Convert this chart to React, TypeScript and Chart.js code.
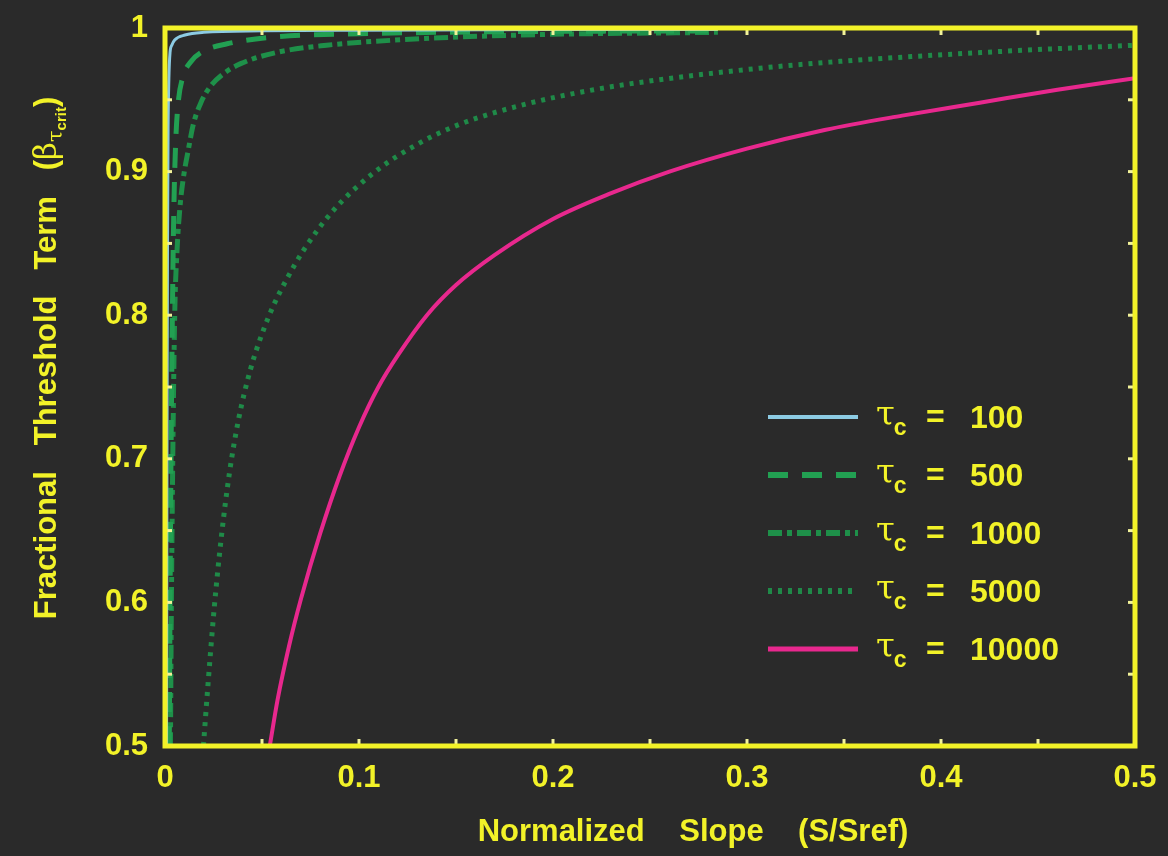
import React, { useEffect, useRef } from 'react';
import { Chart, registerables } from 'chart.js';

Chart.register(...registerables);

// ---------- data ----------
const xTickLabels = ['0', '0.1', '0.2', '0.3', '0.4', '0.5'];
const yTickLabels = ['0.5', '0.6', '0.7', '0.8', '0.9', '1'];
const xMinorTicks = [0, 0.05, 0.1, 0.15, 0.2, 0.25, 0.3, 0.35, 0.4, 0.45, 0.5];
const yMinorTicks = [0.5, 0.55, 0.6, 0.65, 0.7, 0.75, 0.8, 0.85, 0.9, 0.95, 1];

const tauValues = ['100', '500', '1000', '5000', '10000'];

const slope100 = [0.0008, 0.001, 0.0013, 0.0016, 0.002, 0.0026, 0.0035, 0.005, 0.0103, 0.02, 0.05, 0.1, 0.2, 0.285];
const beta100 = [0.5, 0.7, 0.85, 0.93, 0.965, 0.983, 0.988, 0.9916, 0.9951, 0.997, 0.998, 0.9985, 0.999, 0.999];

const slope500 = [0.0022, 0.0026, 0.0031, 0.0038, 0.0045, 0.0055, 0.0068, 0.009, 0.013, 0.02, 0.032, 0.058, 0.1, 0.18, 0.285];
const beta500 = [0.5, 0.6, 0.7, 0.8, 0.87, 0.92, 0.948, 0.965, 0.976, 0.984, 0.989, 0.994, 0.996, 0.9975, 0.998];

const slope1000 = [0.0028, 0.0033, 0.004, 0.005, 0.0062, 0.0077, 0.0094, 0.012, 0.0146, 0.0185, 0.0232, 0.03, 0.0387, 0.0576, 0.0833, 0.1175, 0.18, 0.285];
const beta1000 = [0.5, 0.6, 0.7, 0.8, 0.845, 0.875, 0.895, 0.915, 0.933, 0.948, 0.959, 0.968, 0.975, 0.983, 0.988, 0.9915, 0.995, 0.997];

const slope5000 = [0.0198, 0.022, 0.0253, 0.029, 0.0332, 0.038, 0.044, 0.05, 0.056, 0.0627, 0.0713, 0.0868, 0.1074, 0.13, 0.152, 0.186, 0.221, 0.255, 0.3067, 0.35, 0.396, 0.45, 0.5];
const beta5000 = [0.5, 0.54, 0.595, 0.645, 0.69, 0.728, 0.762, 0.787, 0.807, 0.825, 0.845, 0.873, 0.899, 0.919, 0.933, 0.947, 0.957, 0.964, 0.972, 0.977, 0.981, 0.985, 0.988];

const slope10000 = [0.054, 0.058, 0.064, 0.07, 0.08, 0.09, 0.1, 0.11, 0.12, 0.135, 0.15, 0.17, 0.2, 0.23, 0.26, 0.3, 0.34, 0.38, 0.42, 0.46, 0.5];
const beta10000 = [0.5, 0.532, 0.57, 0.602, 0.648, 0.688, 0.722, 0.75, 0.772, 0.8, 0.821, 0.842, 0.867, 0.885, 0.9, 0.916, 0.929, 0.939, 0.948, 0.957, 0.965];

const xTitle = 'Normalized    Slope    (S/Sref)';
const yTitleMain = 'Fractional   Threshold   Term   (';
const yTitleBeta = 'β';
const yTitleSub = 'τ';
const yTitleSubSub = 'crit';
const yTitleClose = ')';

// ---------- styles ----------
const BG = '#2a2a2a';
const YELLOW = '#f2f228';
const TICK_YELLOW = '#f2f29a';
const SANS = '"Liberation Sans", Arial, sans-serif';
const SERIF = '"DejaVu Serif", "Liberation Serif", serif';

const toPts = (xs: number[], ys: number[]) => xs.map((x, i) => ({ x, y: ys[i] }));

const seriesStyles = [
  { color: '#8ccbe3', width: 3, dash: [] as number[] },
  { color: '#22a052', width: 5, dash: [20, 14] },
  { color: '#1e9049', width: 5, dash: [14, 5, 5, 5] },
  { color: '#1f8a48', width: 5, dash: [4, 6] },
  { color: '#e8288e', width: 4, dash: [] as number[] },
];

const framePlugin = {
  id: 'frameTicks',
  afterDatasetsDraw(chart: any) {
    const { ctx, chartArea: a, scales } = chart;
    const xs = scales.x;
    const ys = scales.y;
    ctx.save();
    ctx.strokeStyle = TICK_YELLOW;
    ctx.lineWidth = 3;
    const len = 7;
    const seg = (x1: number, y1: number, x2: number, y2: number) => {
      ctx.beginPath();
      ctx.moveTo(x1, y1);
      ctx.lineTo(x2, y2);
      ctx.stroke();
    };
    xMinorTicks.forEach((v) => {
      const p = xs.getPixelForValue(v);
      seg(p, a.bottom, p, a.bottom - len);
      seg(p, a.top, p, a.top + len);
    });
    yMinorTicks.forEach((v) => {
      const p = ys.getPixelForValue(v);
      seg(a.left, p, a.left + len, p);
      seg(a.right, p, a.right - len, p);
    });
    ctx.strokeStyle = YELLOW;
    ctx.lineWidth = 5;
    ctx.strokeRect(a.left, a.top, a.right - a.left, a.bottom - a.top);
    ctx.restore();
  },
};

const textPlugin = {
  id: 'customText',
  afterDraw(chart: any) {
    const { ctx } = chart;
    ctx.save();
    ctx.fillStyle = YELLOW;

    // x title
    ctx.font = `bold 31px ${SANS}`;
    ctx.textAlign = 'center';
    ctx.textBaseline = 'alphabetic';
    ctx.fillText(xTitle, 693, 841);

    // y title (rotated, with subscripts)
    const mainFont = `bold 31px ${SANS}`;
    const betaFont = `31px ${SERIF}`;
    const subFont = `21px ${SERIF}`;
    const subSubFont = `bold 15px ${SANS}`;
    ctx.font = mainFont;
    const wMain = ctx.measureText(yTitleMain).width;
    ctx.font = betaFont;
    const wBeta = ctx.measureText(yTitleBeta).width;
    ctx.font = subFont;
    const wSub = ctx.measureText(yTitleSub).width;
    ctx.font = subSubFont;
    const wSubSub = ctx.measureText(yTitleSubSub).width;
    ctx.font = mainFont;
    const wClose = ctx.measureText(yTitleClose).width;
    const total = wMain + wBeta + wSub + wSubSub + wClose;
    ctx.translate(56, 358);
    ctx.rotate(-Math.PI / 2);
    ctx.textAlign = 'left';
    ctx.textBaseline = 'alphabetic';
    let x0 = -total / 2;
    ctx.font = mainFont;
    ctx.fillText(yTitleMain, x0, 0);
    x0 += wMain;
    ctx.font = betaFont;
    ctx.fillText(yTitleBeta, x0, 0);
    x0 += wBeta;
    ctx.font = subFont;
    ctx.fillText(yTitleSub, x0, 6);
    x0 += wSub;
    ctx.font = subSubFont;
    ctx.fillText(yTitleSubSub, x0, 10);
    x0 += wSubSub;
    ctx.font = mainFont;
    ctx.fillText(yTitleClose, x0, 0);
    ctx.restore();

    // legend
    ctx.save();
    const rowTop = 417;
    const rowGap = 58;
    chart.data.datasets.forEach((ds: any, i: number) => {
      const y = rowTop + i * rowGap;
      ctx.strokeStyle = ds.borderColor;
      ctx.lineWidth = ds.borderWidth + 1;
      ctx.setLineDash(ds.borderDash || []);
      ctx.beginPath();
      ctx.moveTo(768, y);
      ctx.lineTo(858, y);
      ctx.stroke();
      ctx.setLineDash([]);
      ctx.fillStyle = YELLOW;
      ctx.textAlign = 'left';
      ctx.textBaseline = 'alphabetic';
      ctx.font = `34px ${SERIF}`;
      ctx.fillText('τ', 876, y + 8);
      const wt = ctx.measureText('τ').width;
      ctx.font = `bold 23px ${SANS}`;
      ctx.fillText('c', 875 + wt, y + 18);
      ctx.font = `bold 32px ${SANS}`;
      ctx.fillText('=', 926, y + 10);
      ctx.fillText(tauValues[i], 970, y + 11);
    });
    ctx.restore();
  },
};

export default function App() {
  const canvasRef = useRef<HTMLCanvasElement | null>(null);

  useEffect(() => {
    if (!canvasRef.current) return;
    const series = [
      [slope100, beta100],
      [slope500, beta500],
      [slope1000, beta1000],
      [slope5000, beta5000],
      [slope10000, beta10000],
    ];
    const chart = new Chart(canvasRef.current, {
      type: 'line',
      data: {
        datasets: series.map(([xs, ys], i) => ({
          label: 'τc = ' + tauValues[i],
          data: toPts(xs, ys),
          borderColor: seriesStyles[i].color,
          borderWidth: seriesStyles[i].width,
          borderDash: seriesStyles[i].dash,
          pointRadius: 0,
          fill: false,
          cubicInterpolationMode: 'monotone',
        })),
      },
      options: {
        responsive: false,
        animation: false,
        layout: { padding: { left: 0, right: 33, top: 28, bottom: 0 } },
        plugins: { legend: { display: false }, tooltip: { enabled: false } },
        scales: {
          x: {
            type: 'linear',
            min: 0,
            max: 0.5,
            afterFit: (s: any) => {
              s.height = 110;
              s.paddingLeft = 0;
              s.paddingRight = 0;
            },
            border: { display: false },
            grid: { display: false, drawTicks: false, tickLength: 0 },
            ticks: {
              stepSize: 0.1,
              autoSkip: false,
              maxRotation: 0,
              padding: 14,
              color: YELLOW,
              font: { family: SANS, size: 31, weight: 'bold' },
              callback: (_v: any, i: number) => xTickLabels[i],
            },
          },
          y: {
            type: 'linear',
            min: 0.5,
            max: 1,
            afterFit: (s: any) => {
              s.width = 165;
              s.paddingTop = 0;
              s.paddingBottom = 0;
            },
            border: { display: false },
            grid: { display: false, drawTicks: false, tickLength: 0 },
            ticks: {
              stepSize: 0.1,
              autoSkip: false,
              padding: 17,
              color: YELLOW,
              font: { family: SANS, size: 31, weight: 'bold' },
              callback: (_v: any, i: number) => yTickLabels[i],
            },
          },
        },
      },
      plugins: [framePlugin, textPlugin],
    } as any);
    return () => chart.destroy();
  }, []);

  return (
    <div style={{ position: 'absolute', left: 0, top: 0, width: 1168, height: 856, background: BG }}>
      <canvas ref={canvasRef} width={1168} height={856} style={{ display: 'block' }} />
    </div>
  );
}
